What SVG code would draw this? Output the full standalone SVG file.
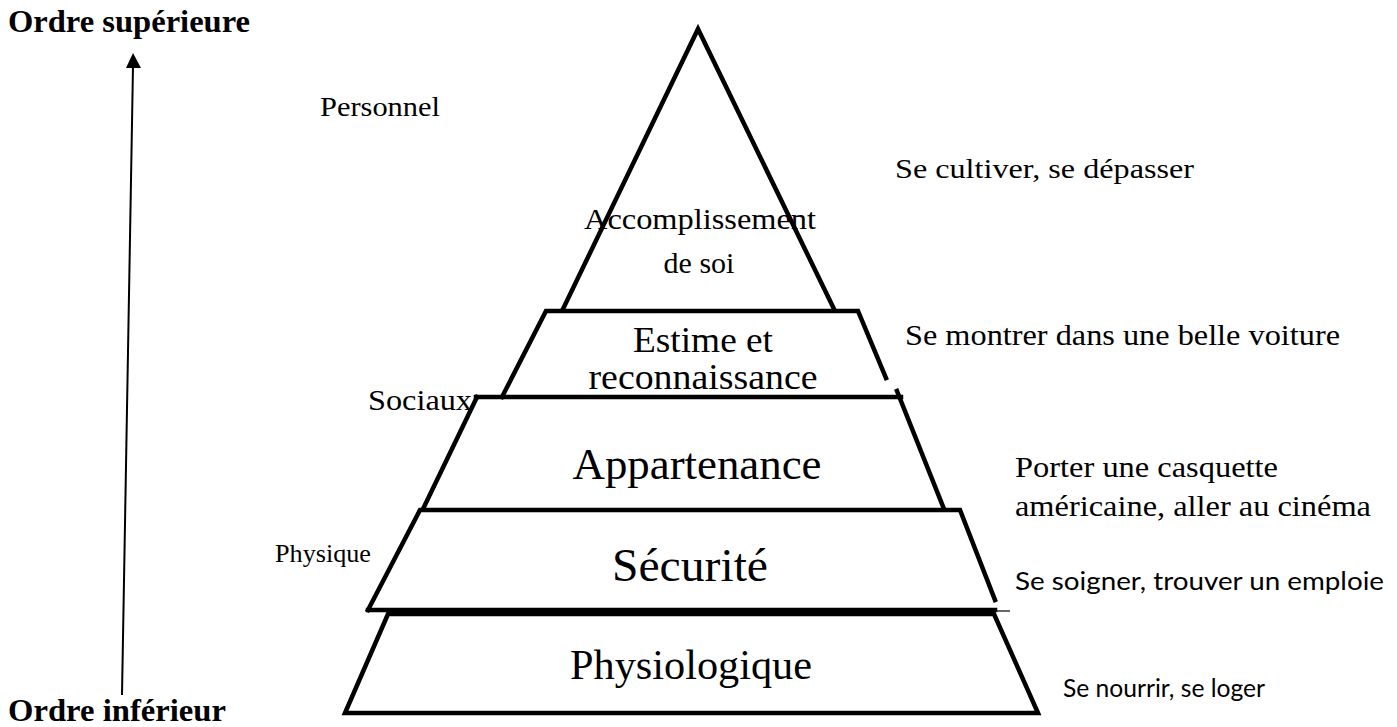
<svg xmlns="http://www.w3.org/2000/svg" width="1397" height="727" viewBox="0 0 1397 727">
<style>
.ln{stroke:#000;stroke-width:4.5;fill:none;stroke-linecap:square}
.t{font-family:"Liberation Serif","Times New Roman",serif;fill:#000}
.b{font-family:"Liberation Serif","Times New Roman",serif;font-weight:bold;fill:#000}
.s{font-family:Lato,"Open Sans",sans-serif;fill:#000}
.c{text-anchor:middle}
</style>
<rect width="1397" height="727" fill="#fff"/>
<g id="axis">
<line x1="122" y1="695" x2="133" y2="66" stroke="#000" stroke-width="2"/>
<polygon points="133,53 126,68 141,68" fill="#000"/>
<text class="b" x="8" y="32" font-size="32" textLength="242" lengthAdjust="spacingAndGlyphs">Ordre supérieure</text>
<text class="b" x="8" y="721" font-size="32" textLength="218" lengthAdjust="spacingAndGlyphs">Ordre inférieur</text>
</g>
<g id="level-accomplissement">
<polyline class="ln" points="563,309 698,29 834,309"/>
<text class="t c" x="700" y="229" font-size="30" textLength="232" lengthAdjust="spacingAndGlyphs">Accomplissement</text>
<text class="t c" x="699" y="273" font-size="30">de soi</text>
</g>
<g id="level-estime">
<polyline class="ln" points="502,397 546,311 858,311 886,378"/>
<text class="t c" x="703" y="352" font-size="36" textLength="140" lengthAdjust="spacingAndGlyphs">Estime et</text>
<text class="t c" x="703" y="389" font-size="36" textLength="229" lengthAdjust="spacingAndGlyphs">reconnaissance</text>
</g>
<g id="level-appartenance">
<line class="ln" x1="476" y1="397" x2="901" y2="397"/>
<line class="ln" x1="477" y1="397" x2="423" y2="509"/>
<line class="ln" x1="897" y1="391" x2="944" y2="509"/>
<text class="t c" x="697" y="479" font-size="44" textLength="249" lengthAdjust="spacingAndGlyphs">Appartenance</text>
</g>
<g id="level-securite">
<polyline class="ln" points="368,610 420,510 960,510 995,600"/>
<line class="ln" x1="368" y1="610" x2="995" y2="610"/>
<line x1="995" y1="611" x2="1010" y2="611" stroke="#000" stroke-width="1.2"/>
<text class="t c" x="690" y="581" font-size="47" textLength="156" lengthAdjust="spacingAndGlyphs">Sécurité</text>
</g>
<g id="level-physiologique">
<polygon class="ln" points="388,614 994,614 1038,713 345,713" stroke-linejoin="miter"/>
<text class="t c" x="691" y="679" font-size="42" textLength="242" lengthAdjust="spacingAndGlyphs">Physiologique</text>
</g>
<g id="labels-left">
<text class="t" x="320" y="116" font-size="28" textLength="120" lengthAdjust="spacingAndGlyphs">Personnel</text>
<text class="t" x="368" y="410" font-size="29" textLength="104" lengthAdjust="spacingAndGlyphs">Sociaux</text>
<text class="t" x="275" y="562" font-size="25" textLength="96" lengthAdjust="spacingAndGlyphs">Physique</text>
</g>
<g id="labels-right">
<text class="t" x="895" y="178" font-size="28" textLength="299" lengthAdjust="spacingAndGlyphs">Se cultiver, se dépasser</text>
<text class="t" x="905" y="345" font-size="29" textLength="435" lengthAdjust="spacingAndGlyphs">Se montrer dans une belle voiture</text>
<text class="t" x="1015" y="477" font-size="30" textLength="263" lengthAdjust="spacingAndGlyphs">Porter une casquette</text>
<text class="t" x="1015" y="516" font-size="30" textLength="356" lengthAdjust="spacingAndGlyphs">américaine, aller au cinéma</text>
<text class="s" x="1015" y="590" font-size="25" textLength="369" lengthAdjust="spacingAndGlyphs">Se soigner, trouver un emploie</text>
<text class="s" x="1063" y="697" font-size="25" textLength="202" lengthAdjust="spacingAndGlyphs">Se nourrir, se loger</text>
</g>
</svg>
